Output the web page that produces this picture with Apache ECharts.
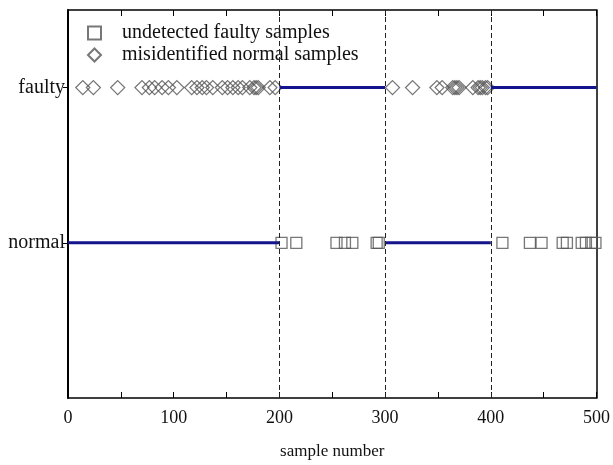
<!DOCTYPE html>
<html>
<head>
<meta charset="utf-8">
<script src="https://cdn.jsdelivr.net/npm/echarts@6/dist/echarts.min.js"></script>
<style>
  html, body { margin: 0; padding: 0; background: #fff; }
  #chart { width: 613px; height: 465px; }
</style>
</head>
<body>
<div id="chart"></div>
<script type="text/javascript">
// states on the y axis
var stateNames = { 1: 'normal', 2: 'faulty' };
var xTicks = [0, 100, 200, 300, 400, 500];
var boundaries = [200, 300, 400];

// true state of samples (segments of sample numbers)
var normalSegments = [[0, 200], [300, 400]];
var faultySegments = [[200, 300], [400, 500]];

// faulty samples classified as normal
var undetectedFaulty = [202, 216, 254, 262, 269, 292, 294, 411, 437, 448, 468, 472, 486, 490, 495, 499];
// normal samples classified as faulty
var misidentifiedNormal = [14, 24, 47, 70, 77, 82, 89, 95, 103, 117, 122, 127, 131, 137, 146, 151, 156, 161, 165, 172, 176, 178, 180, 191, 196,
  307, 326, 349, 354, 364, 366, 368, 370, 383, 388, 390, 392, 395, 397];

var font = "'Liberation Serif', 'Times New Roman', serif";

function segData(segs, y) {
  var out = [];
  segs.forEach(function (s, i) {
    if (i > 0) out.push('-');
    out.push([s[0], y], [s[1], y]);
  });
  return out;
}

var myChart = echarts.init(document.getElementById('chart'));
var option = {
  animation: false,
  backgroundColor: '#fff',
  grid: { left: 68, right: 16, top: 10, bottom: 65 },
  legend: {
    orient: 'vertical',
    left: 82,
    top: 18,
    itemWidth: 13,
    itemHeight: 13,
    itemGap: 2,
    textStyle: { fontFamily: font, fontSize: 20, color: '#111', padding: [0, 0, 0, 16] },
    data: ['undetected faulty samples', 'misidentified normal samples']
  },
  xAxis: [{
    type: 'value', min: 0, max: 500, interval: 100,
    axisLine: { onZero: false, lineStyle: { color: '#000', width: 1.5 } },
    axisTick: { inside: true, length: 6, lineStyle: { color: '#000' } },
    minorTick: { show: true, splitNumber: 2, length: 6, lineStyle: { color: '#000' } },
    splitLine: { show: false },
    axisLabel: { fontFamily: font, fontSize: 18, color: '#111', margin: 11,
      formatter: function (v) { return xTicks.indexOf(v) >= 0 ? String(v) : ''; } },
    name: 'sample number', nameLocation: 'middle', nameGap: 45,
    nameTextStyle: { fontFamily: font, fontSize: 17, color: '#111' }
  }, {
    type: 'value', position: 'top', min: 0, max: 500, interval: 100,
    axisLine: { show: true, onZero: false, lineStyle: { color: '#000', width: 1.5 } },
    axisTick: { inside: true, length: 6, lineStyle: { color: '#000' } },
    minorTick: { show: true, splitNumber: 2, length: 6, lineStyle: { color: '#000' } },
    splitLine: { show: false },
    axisLabel: { show: false }
  }],
  yAxis: [{
    type: 'value', min: 0, max: 2.5,
    axisLine: { show: true, onZero: false, lineStyle: { color: '#000', width: 2 } },
    axisTick: { show: true, length: 5, customValues: [1, 2], lineStyle: { color: '#000' } },
    splitLine: { show: false },
    axisLabel: { fontFamily: font, fontSize: 20, color: '#111', margin: 3, customValues: [1, 2],
      formatter: function (v) { return stateNames[v] || ''; } }
  }, {
    type: 'value', min: 0, max: 2.5, position: 'right',
    axisLine: { show: true, onZero: false, lineStyle: { color: '#000', width: 1.5 } },
    axisTick: { show: false }, axisLabel: { show: false }, splitLine: { show: false }
  }],
  series: [{
    name: 'normal state', type: 'line', data: segData(normalSegments, 1),
    symbol: 'none', connectNulls: false,
    lineStyle: { color: '#14148c', width: 3 },
    markLine: {
      silent: true, symbol: 'none', label: { show: false },
      lineStyle: { color: '#222', type: [5, 3], width: 1 },
      data: boundaries.map(function (b) { return { xAxis: b }; })
    }
  }, {
    name: 'faulty state', type: 'line', data: segData(faultySegments, 2),
    symbol: 'none', connectNulls: false,
    lineStyle: { color: '#14148c', width: 3 }
  }, {
    name: 'undetected faulty samples', type: 'scatter', clip: false,
    data: undetectedFaulty.map(function (x) { return [x, 1]; }),
    symbol: 'rect', symbolSize: 11,
    itemStyle: { color: 'rgba(0,0,0,0)', borderColor: '#555', borderWidth: 1.3 }
  }, {
    name: 'misidentified normal samples', type: 'scatter', clip: false,
    data: misidentifiedNormal.map(function (x) { return [x, 2]; }),
    symbol: 'diamond', symbolSize: 14,
    itemStyle: { color: 'rgba(0,0,0,0)', borderColor: '#555', borderWidth: 1.3 }
  }]
};
myChart.setOption(option);
</script>
</body>
</html>
